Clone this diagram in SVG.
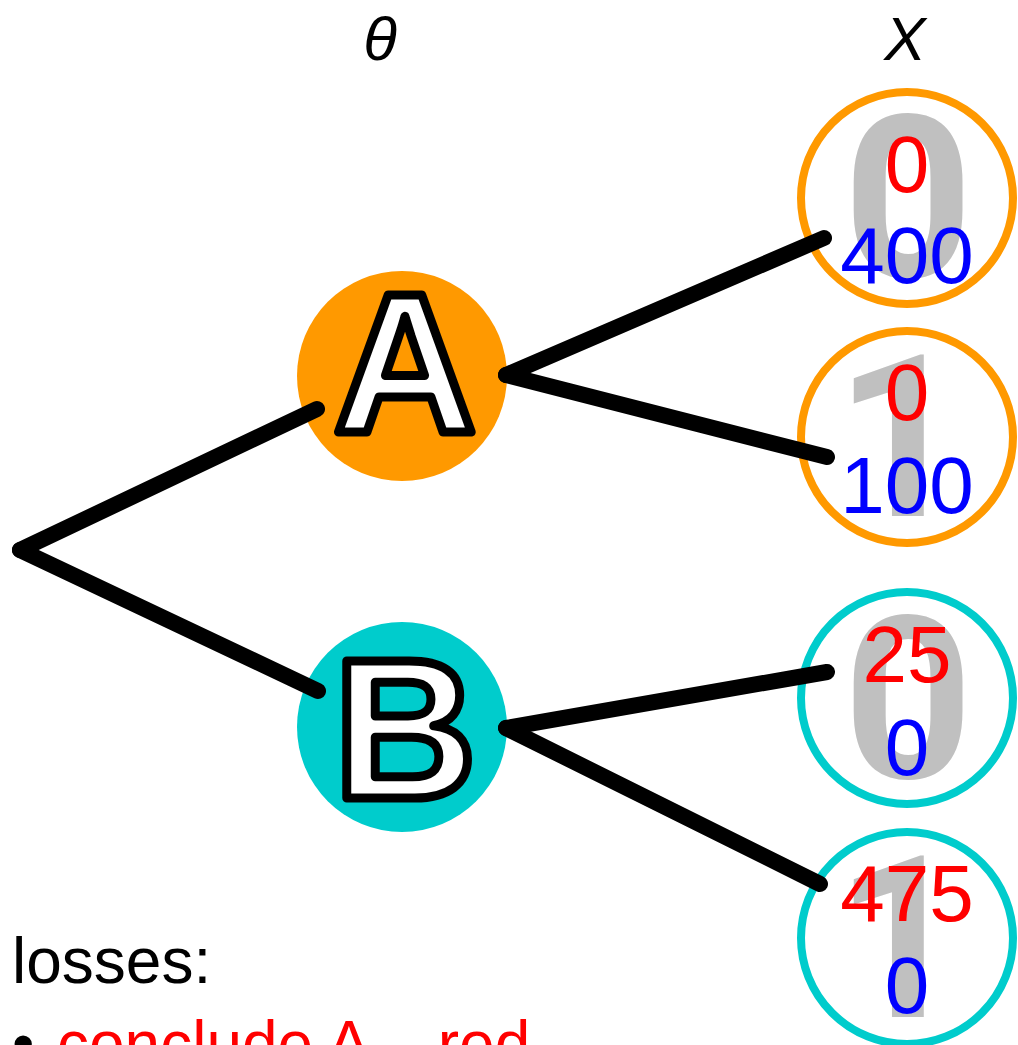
<svg xmlns="http://www.w3.org/2000/svg" width="1018" height="1045" viewBox="0 0 1018 1045">
  <style>
    .axis { font-family: "Liberation Sans", Arial, sans-serif; font-style: italic; font-size: 62px; fill: #000; text-anchor: middle; }
    .big { font-family: "Liberation Sans", Arial, sans-serif; font-weight: bold; font-size: 198px; fill: #fff; stroke: #000; stroke-width: 9; stroke-linejoin: round; text-anchor: middle; }
    .ghost { font-family: Roboto, "Liberation Sans", sans-serif; font-weight: bold; font-size: 226px; fill: #c0c0c0; text-anchor: middle; }
    .loss { font-family: "Liberation Sans", Arial, sans-serif; font-size: 80px; text-anchor: middle; }
    .red { fill: #ff0000; }
    .blue { fill: #0000ff; }
    .ringA { fill: none; stroke: #ff9900; stroke-width: 8; }
    .ringB { fill: none; stroke: #00cccc; stroke-width: 8; }
    .edge { fill: none; stroke: #000; stroke-width: 16; stroke-linecap: round; }
    .legend { font-family: "Liberation Sans", Arial, sans-serif; font-size: 64px; }
  </style>

  <!-- column headers -->
  <text class="axis" x="380" y="60">θ</text>
  <text class="axis" x="905" y="60">X</text>

  <!-- parameter nodes -->
  <g id="node-A">
    <circle cx="402" cy="376" r="105" fill="#ff9900"/>
    <text class="big" x="405" y="432">A</text>
  </g>
  <g id="node-B">
    <circle cx="402" cy="727" r="105" fill="#00cccc"/>
    <text class="big" x="405" y="798">B</text>
  </g>

  <!-- outcome nodes -->
  <g id="leaf-A0">
    <circle class="ringA" cx="907" cy="198" r="106"/>
    <text class="ghost" x="908" y="277">0</text>
    <text class="loss red" x="907" y="192">0</text>
    <text class="loss blue" x="907" y="283">400</text>
  </g>
  <g id="leaf-A1">
    <circle class="ringA" cx="907" cy="437" r="106"/>
    <text class="ghost" x="900" y="516">1</text>
    <text class="loss red" x="907" y="420">0</text>
    <text class="loss blue" x="907" y="513">100</text>
  </g>
  <g id="leaf-B0">
    <circle class="ringB" cx="907" cy="698" r="106"/>
    <text class="ghost" x="908" y="778">0</text>
    <text class="loss red" x="907" y="682">25</text>
    <text class="loss blue" x="907" y="775">0</text>
  </g>
  <g id="leaf-B1">
    <circle class="ringB" cx="907" cy="938" r="106"/>
    <text class="ghost" x="900" y="1017">1</text>
    <text class="loss red" x="907" y="921">475</text>
    <text class="loss blue" x="907" y="1013">0</text>
  </g>

  <!-- tree branches -->
  <g id="connectors">
    <line class="edge" x1="20" y1="550" x2="317" y2="409"/>
    <line class="edge" x1="20" y1="550" x2="318" y2="691"/>
    <line class="edge" x1="506" y1="375" x2="824" y2="238"/>
    <line class="edge" x1="506" y1="375" x2="827" y2="457"/>
    <line class="edge" x1="506" y1="728" x2="827" y2="672"/>
    <line class="edge" x1="506" y1="728" x2="820" y2="884"/>
  </g>

  <!-- legend -->
  <g id="legend">
    <text class="legend" x="12" y="983" fill="#000">losses:</text>
    <text class="legend" x="12" y="1066" fill="#000">•</text>
    <text class="legend" x="57" y="1066" fill="#ff0000">conclude A – red</text>
  </g>
</svg>
